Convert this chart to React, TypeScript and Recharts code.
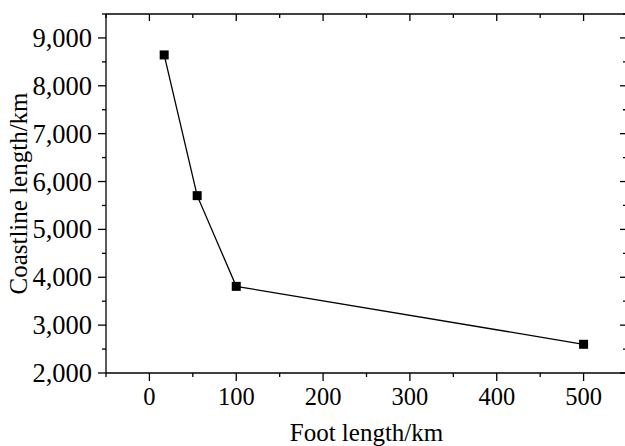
import React from 'react';
import { LineChart, Line, XAxis, YAxis, Label } from 'recharts';

const footLengths = [17, 55, 100, 500];
const coastlineLengths = [8645, 5705, 3810, 2600];
const xTicks = [-50, 0, 50, 100, 150, 200, 250, 300, 350, 400, 450, 500, 550];
const yTicks = [2000, 2500, 3000, 3500, 4000, 4500, 5000, 5500, 6000, 6500, 7000, 7500, 8000, 8500, 9000, 9500];
const xTitle = 'Foot length/km';
const yTitle = 'Coastline length/km';

const data = footLengths.map((x, i) => ({ x, y: coastlineLengths[i] }));

const FONT = '"Liberation Serif", "Times New Roman", serif';
const FS = 25;
const XFS = 24.5;
const YFS = 26.5;
const SW = 1.3;

const BottomTick = (props: any) => {
  const { x, y, payload } = props;
  const major = payload.value % 100 === 0;
  return (
    <g>
      <line x1={x} x2={x} y1={y} y2={y + (major ? 8 : 4)} stroke="#000" strokeWidth={SW} />
      {major && (
        <text x={x} y={y + 32} textAnchor="middle" fontSize={XFS} fontFamily={FONT} fill="#000">
          {payload.value}
        </text>
      )}
    </g>
  );
};

const TopTick = (props: any) => {
  const { x, y, payload } = props;
  const major = payload.value % 100 === 0;
  return <line x1={x} x2={x} y1={y} y2={y + (major ? 7 : 4)} stroke="#000" strokeWidth={SW} />;
};

const LeftTick = (props: any) => {
  const { x, y, payload } = props;
  const major = payload.value % 1000 === 0;
  return (
    <g>
      <line x1={x - (major ? 8 : 4)} x2={x} y1={y} y2={y} stroke="#000" strokeWidth={SW} />
      {major && (
        <text x={x - 14} y={y + 9} textAnchor="end" fontSize={YFS} fontFamily={FONT} fill="#000">
          {payload.value.toLocaleString('en-US')}
        </text>
      )}
    </g>
  );
};

const RightTick = (props: any) => {
  const { x, y, payload } = props;
  const major = payload.value % 1000 === 0;
  return <line x1={x - (major ? 7 : 4)} x2={x} y1={y} y2={y} stroke="#000" strokeWidth={SW} />;
};

const SquareDot = (props: any) => {
  const { cx, cy } = props;
  if (cx == null || cy == null) return null;
  return <rect x={cx - 4.5} y={cy - 4.5} width={9} height={9} fill="#000" />;
};

export default function App() {
  return (
    <div style={{ position: 'absolute', left: 0, top: 0, width: 625, height: 446, overflow: 'hidden', background: '#fff' }}>
      <LineChart width={625} height={446} data={data} margin={{ top: 13, right: -3, left: 0, bottom: 0 }}>
        <XAxis
          xAxisId="bottom"
          dataKey="x"
          type="number"
          domain={[-50, 550]}
          allowDataOverflow
          ticks={xTicks}
          interval={0}
          height={73}
          tickSize={0}
          tickMargin={0}
          tickLine={false}
          axisLine={{ stroke: '#000', strokeWidth: SW }}
          tick={<BottomTick />}
        >
          <Label
            content={(p: any) => {
              const vb = p.viewBox || { x: 106, y: 373, width: 521, height: 73 };
              return (
                <text x={vb.x + vb.width / 2} y={vb.y + 68} textAnchor="middle" fontSize={FS} fontFamily={FONT} fill="#000">
                  {xTitle}
                </text>
              );
            }}
          />
        </XAxis>
        <XAxis
          xAxisId="top"
          orientation="top"
          dataKey="x"
          type="number"
          domain={[-50, 550]}
          allowDataOverflow
          ticks={xTicks}
          interval={0}
          height={1}
          tickSize={0}
          tickMargin={0}
          tickLine={false}
          axisLine={{ stroke: '#000', strokeWidth: SW }}
          tick={<TopTick />}
        />
        <YAxis
          yAxisId="left"
          dataKey="y"
          type="number"
          domain={[2000, 9500]}
          allowDataOverflow
          ticks={yTicks}
          interval={0}
          width={106}
          tickSize={0}
          tickMargin={0}
          tickLine={false}
          axisLine={{ stroke: '#000', strokeWidth: SW }}
          tick={<LeftTick />}
        >
          <Label
            content={(p: any) => {
              const vb = p.viewBox || { x: 0, y: 14, width: 106, height: 359 };
              const cx = vb.x + 26.5;
              const cy = vb.y + vb.height / 2;
              return (
                <text
                  x={cx}
                  y={cy}
                  transform={`rotate(-90, ${cx}, ${cy})`}
                  textAnchor="middle"
                  fontSize={FS}
                  fontFamily={FONT}
                  fill="#000"
                >
                  {yTitle}
                </text>
              );
            }}
          />
        </YAxis>
        <YAxis
          yAxisId="right"
          orientation="right"
          dataKey="y"
          type="number"
          domain={[2000, 9500]}
          allowDataOverflow
          ticks={yTicks}
          interval={0}
          width={1}
          tickSize={0}
          tickMargin={0}
          tickLine={false}
          axisLine={{ stroke: '#000', strokeWidth: SW }}
          tick={<RightTick />}
        />
        <Line
          xAxisId="bottom"
          yAxisId="left"
          dataKey="y"
          type="linear"
          stroke="#000"
          strokeWidth={1.3}
          dot={<SquareDot />}
          activeDot={false}
          isAnimationActive={false}
        />
      </LineChart>
    </div>
  );
}
